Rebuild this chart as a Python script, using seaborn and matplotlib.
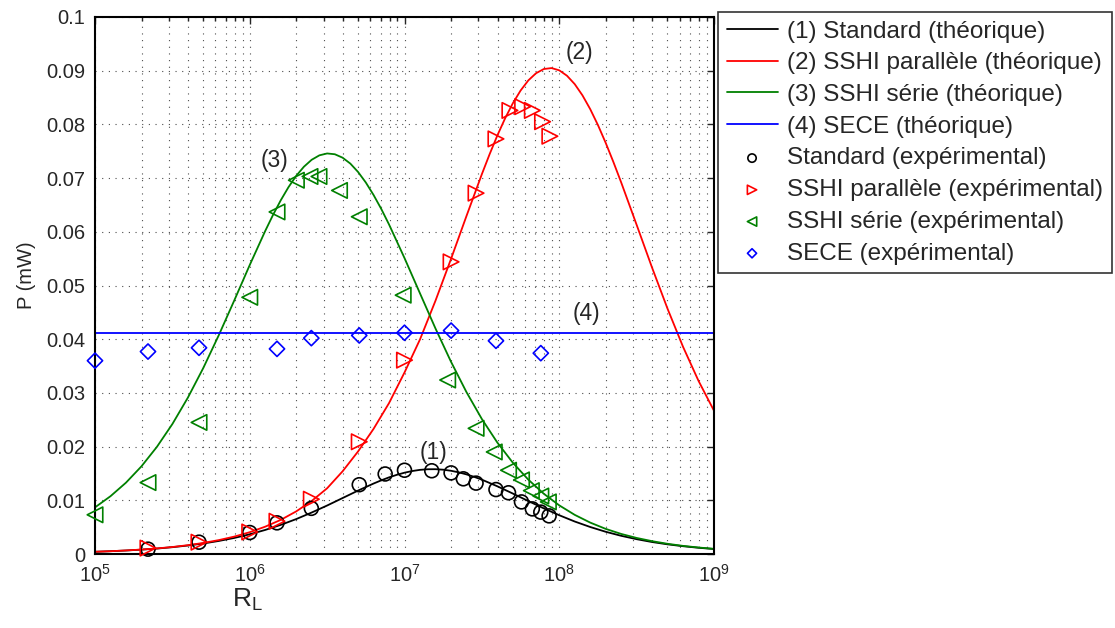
import numpy as np
import matplotlib
matplotlib.use("Agg")
import matplotlib.pyplot as plt
import seaborn as sns
from matplotlib.ticker import FixedLocator, LogLocator, NullFormatter, FixedFormatter

# --- theoretical curves, read every 0.1 decade (log10 of R_L) ---
log_r_theo = [5.0, 5.1, 5.2, 5.3, 5.4, 5.5, 5.6, 5.7, 5.8, 5.9,
              6.0, 6.1, 6.2, 6.3, 6.4, 6.5, 6.6, 6.7, 6.8, 6.9,
              7.0, 7.1, 7.2, 7.3, 7.4, 7.5, 7.6, 7.7, 7.8, 7.9,
              8.0, 8.1, 8.2, 8.3, 8.4, 8.5, 8.6, 8.7, 8.8, 8.9, 9.0]

std_theo = [0.00041, 0.00052, 0.00065, 0.00081, 0.00101, 0.00127, 0.00158, 0.00196, 0.00243, 0.00299,
            0.00367, 0.00448, 0.00542, 0.00650, 0.00772, 0.00903, 0.01042, 0.01181, 0.01312, 0.01427,
            0.01514, 0.01567, 0.01579, 0.01550, 0.01483, 0.01384, 0.01261, 0.01126, 0.00986, 0.00850,
            0.00722, 0.00605, 0.00503, 0.00414, 0.00339, 0.00276, 0.00223, 0.00180, 0.00145, 0.00116, 0.00093]

par_theo = [0.00042, 0.00052, 0.00066, 0.00083, 0.00104, 0.00130, 0.00164, 0.00206, 0.00259, 0.00324,
            0.00406, 0.00509, 0.00635, 0.00793, 0.00987, 0.01224, 0.01540, 0.01910, 0.02330, 0.02810,
            0.03380, 0.03995, 0.04715, 0.05490, 0.06290, 0.07074, 0.07794, 0.08393, 0.08819, 0.09031,
            0.09007, 0.08750, 0.08285, 0.07657, 0.06921, 0.06130, 0.05331, 0.04566, 0.03858, 0.03224, 0.02668]

ser_theo = [0.00868, 0.01076, 0.01328, 0.01632, 0.01995, 0.02420, 0.02911, 0.03465, 0.04075, 0.04722,
            0.05382, 0.06016, 0.06585, 0.07041, 0.07341, 0.07459, 0.07380, 0.07114, 0.06686, 0.06137,
            0.05511, 0.04854, 0.04201, 0.03583, 0.03017, 0.02513, 0.02075, 0.01700, 0.01385, 0.01122,
            0.00906, 0.00729, 0.00585, 0.00468, 0.00374, 0.00299, 0.00239, 0.00190, 0.00151, 0.00121, 0.00096]

# extra readings around each peak (half steps), so the tops stay round
std_peak_log = [6.85, 6.95, 7.05, 7.15, 7.25, 7.35, 7.45]
std_peak = [0.01372, 0.01474, 0.01545, 0.01578, 0.01570, 0.01521, 0.01437]
par_peak_log = [7.55, 7.65, 7.75, 7.85, 7.95, 8.05, 8.15, 8.25, 8.35]
par_peak = [0.07445, 0.08112, 0.08630, 0.08953, 0.09049, 0.08906, 0.08541, 0.07988, 0.07299]
ser_peak_log = [6.15, 6.25, 6.35, 6.45, 6.55, 6.65, 6.75, 6.85]
ser_peak = [0.06312, 0.06830, 0.07212, 0.07424, 0.07444, 0.07270, 0.06918, 0.06425]

sece_x = [1e5, 1e9]
sece_theo = [0.0412, 0.0412]

# --- experimental points ---
std_x = [2.2e5, 4.7e5, 1e6, 1.5e6, 2.5e6, 5.1e6, 7.5e6, 1e7, 1.5e7, 2e7, 2.4e7, 2.9e7,
         3.9e7, 4.7e7, 5.7e7, 6.7e7, 7.6e7, 8.6e7]
std_exp = [0.0009, 0.0022, 0.0040, 0.0058, 0.0085, 0.0129, 0.0149, 0.0156, 0.0155, 0.0151, 0.0140, 0.0132,
           0.0120, 0.0114, 0.0097, 0.0084, 0.0078, 0.0071]

par_x = [2.2e5, 4.7e5, 1e6, 1.5e6, 2.5e6, 5.1e6, 1e7, 2e7, 2.9e7, 3.9e7, 4.8e7, 5.8e7, 6.7e7, 7.8e7, 8.7e7]
par_exp = [0.0011, 0.0022, 0.0041, 0.0061, 0.0102, 0.0209, 0.0361, 0.0544, 0.0672, 0.0773,
           0.0826, 0.0833, 0.0826, 0.0805, 0.0778]

ser_x = [1e5, 2.2e5, 4.7e5, 1e6, 1.5e6, 2e6, 2.45e6, 2.8e6, 3.8e6, 5.1e6, 9.8e6, 1.9e7, 2.9e7,
         3.8e7, 4.7e7, 5.7e7, 6.6e7, 7.6e7, 8.5e7]
ser_exp = [0.0073, 0.0133, 0.0245, 0.0478, 0.0637, 0.0696, 0.0703, 0.0703, 0.0677, 0.0628, 0.0482, 0.0324, 0.0234,
           0.0190, 0.0156, 0.0138, 0.0118, 0.0108, 0.0097]

sece_ex = [1e5, 2.2e5, 4.7e5, 1.5e6, 2.5e6, 5.1e6, 1e7, 2e7, 3.9e7, 7.6e7]
sece_exp = [0.0360, 0.0377, 0.0384, 0.0382, 0.0402, 0.0407, 0.0412, 0.0416, 0.0397, 0.0374]

y_ticks = [0, 0.01, 0.02, 0.03, 0.04, 0.05, 0.06, 0.07, 0.08, 0.09, 0.1]
y_labels = ["0", "0.01", "0.02", "0.03", "0.04", "0.05", "0.06", "0.07", "0.08", "0.09", "0.1"]

BLACK, RED, GREEN, BLUE = "#000000", "#ff0000", "#008000", "#0000ff"


def curve(base_y, extra_log, extra_y):
    # merge regular readings with the extra peak readings, sorted on R_L
    lx = np.concatenate([log_r_theo, extra_log])
    ly = np.concatenate([base_y, extra_y])
    order = np.argsort(lx)
    return np.power(10.0, lx[order]), ly[order]


sns.set_style("white")
plt.rcParams["font.family"] = ["Liberation Sans", "DejaVu Sans"]
plt.rcParams["mathtext.fontset"] = "custom"
plt.rcParams["mathtext.rm"] = "Liberation Sans"
plt.rcParams["mathtext.it"] = "Liberation Sans:italic"
plt.rcParams["mathtext.default"] = "regular"

fig = plt.figure(figsize=(11.15, 6.28), dpi=100)
ax = fig.add_axes([95 / 1115, 1 - 554 / 628, (714 - 95) / 1115, (554 - 17) / 628])

x1, y1 = curve(std_theo, std_peak_log, std_peak)
x2, y2 = curve(par_theo, par_peak_log, par_peak)
x3, y3 = curve(ser_theo, ser_peak_log, ser_peak)
sns.lineplot(x=x1, y=y1, ax=ax, color=BLACK, lw=1.3, label="(1) Standard (théorique)")
sns.lineplot(x=x2, y=y2, ax=ax, color=RED, lw=1.3, label="(2) SSHI parallèle (théorique)")
sns.lineplot(x=x3, y=y3, ax=ax, color=GREEN, lw=1.3, label="(3) SSHI série (théorique)")
sns.lineplot(x=sece_x, y=sece_theo, ax=ax, color=BLUE, lw=1.3, label="(4) SECE (théorique)")

mk = dict(facecolors="none", linewidth=1.2, zorder=3, clip_on=False)
sns.scatterplot(x=std_x, y=std_exp, ax=ax, marker="o", s=100, edgecolor=BLACK,
                label="Standard (expérimental)", **mk)
sns.scatterplot(x=par_x, y=par_exp, ax=ax, marker=">", s=125, edgecolor=RED,
                label="SSHI parallèle (expérimental)", **mk)
sns.scatterplot(x=ser_x, y=ser_exp, ax=ax, marker="<", s=125, edgecolor=GREEN,
                label="SSHI série (expérimental)", **mk)
sns.scatterplot(x=sece_ex, y=sece_exp, ax=ax, marker="D", s=60, edgecolor=BLUE,
                label="SECE (expérimental)", **mk)

ax.set_xscale("log")
ax.set_xlim(1e5, 1e9)
ax.set_ylim(0, 0.1)
ax.xaxis.set_major_locator(FixedLocator([1e5, 1e6, 1e7, 1e8, 1e9]))
ax.xaxis.set_major_formatter(FixedFormatter([r"$10^{5}$", r"$10^{6}$", r"$10^{7}$", r"$10^{8}$", r"$10^{9}$"]))
ax.xaxis.set_minor_locator(LogLocator(base=10, subs=np.arange(2, 10), numticks=20))
ax.xaxis.set_minor_formatter(NullFormatter())
ax.yaxis.set_major_locator(FixedLocator(y_ticks))
ax.yaxis.set_major_formatter(FixedFormatter(y_labels))

grid_style = dict(color="0.3", linestyle=(0, (1, 5)), linewidth=0.8)
ax.grid(True, which="major", axis="both", **grid_style)
ax.grid(True, which="minor", axis="x", **grid_style)
ax.set_axisbelow(True)

ax.tick_params(which="both", direction="in", top=True, right=True, labelsize=14.5, width=1.0)
ax.tick_params(which="major", length=5, pad=7)
ax.tick_params(which="minor", length=3)
for sp in ax.spines.values():
    sp.set_linewidth(1.5)
    sp.set_color("black")

ax.set_ylabel("P (mW)", fontsize=14.5, labelpad=6)
ax.yaxis.set_label_coords(-0.095, 0.52)
ax.set_xlabel(r"R$_{L}$", fontsize=19, va="top")
ax.xaxis.set_label_coords(0.246, -0.062)

ax.text(1.455e6, 0.0732, "(3)", fontsize=16.5, ha="center", va="center")
ax.text(1.343e8, 0.0933, "(2)", fontsize=16.5, ha="center", va="center")
ax.text(1.53e7, 0.0189, "(1)", fontsize=16.5, ha="center", va="center")
ax.text(1.50e8, 0.0448, "(4)", fontsize=16.5, ha="center", va="center")

handles, labels = ax.get_legend_handles_labels()
leg = ax.legend(handles, labels, loc="upper left", bbox_to_anchor=(718 / 1115, 1 - 12 / 628),
                bbox_transform=fig.transFigure, borderaxespad=0, fontsize=17.5, frameon=True,
                fancybox=False, edgecolor="black", handlelength=2.1, handletextpad=0.4,
                labelspacing=0.4, borderpad=0.35, markerscale=0.6, scatterpoints=1)
leg.get_frame().set_linewidth(1.2)

fig.savefig("out.png", dpi=100)
